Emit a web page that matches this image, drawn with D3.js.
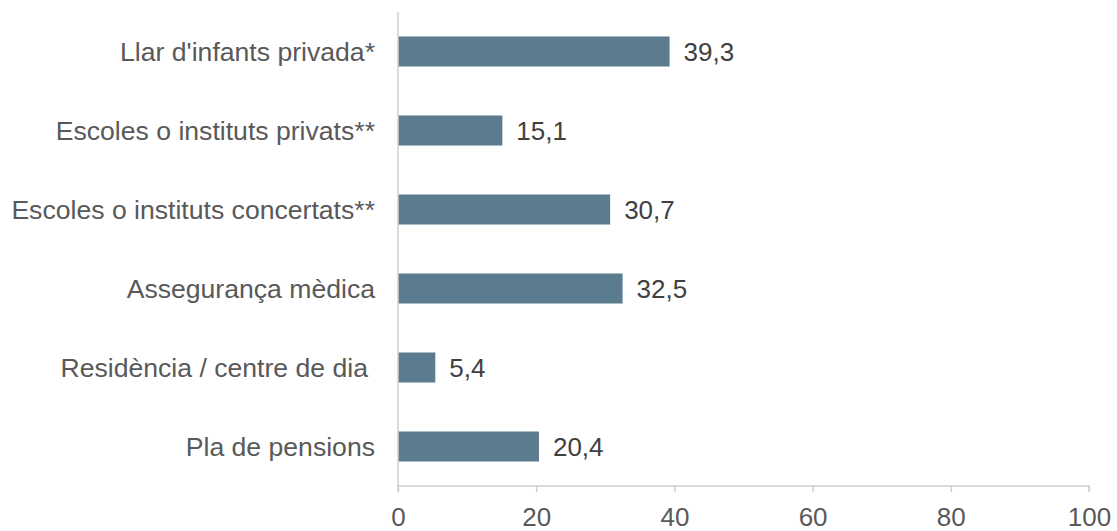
<!DOCTYPE html>
<html><head><meta charset="utf-8">
<script src="https://cdn.jsdelivr.net/npm/d3@7/dist/d3.min.js"></script>
<style>body{margin:0;background:#fff}svg{display:block}</style>
</head><body><svg id="c" width="1117" height="531"></svg>
<script>
const categories = ["Llar d'infants privada*","Escoles o instituts privats**","Escoles o instituts concertats**","Assegurança mèdica","Residència / centre de dia ","Pla de pensions"];
const values = [39.3, 15.1, 30.7, 32.5, 5.4, 20.4];
const xTicks = [0, 20, 40, 60, 80, 100];

const svg = d3.select("#c");
const pLeft = 398, pRight = 1089, pTop = 12, pBottom = 486;
const font = "'Liberation Sans', Arial, sans-serif";
const fs = 26;
const x = d3.scaleLinear().domain([0,100]).range([pLeft,pRight]);
const y = d3.scaleBand().domain(categories).range([pTop,pBottom]).paddingInner(0.62).paddingOuter(0.31);

svg.selectAll("rect.bar").data(values).join("rect").attr("class","bar")
  .attr("x", x(0)).attr("y",(d,i)=>y(categories[i]))
  .attr("width", d=>x(d)-x(0)).attr("height", y.bandwidth())
  .attr("fill","#5b7b8f");

svg.selectAll("text.val").data(values).join("text").attr("class","val")
  .attr("x", d=>x(d)+14).attr("y",(d,i)=>y(categories[i])+y.bandwidth()/2)
  .attr("dy","0.35em").attr("font-family",font).attr("font-size",fs).attr("fill","#404040")
  .text(d=>d.toFixed(1).replace(".",","));

// y axis
svg.append("line").attr("x1",pLeft).attr("x2",pLeft).attr("y1",pTop).attr("y2",pBottom).attr("stroke","#d0d0d0").attr("stroke-width",1.5);
svg.selectAll("text.cat").data(categories).join("text").attr("class","cat")
  .attr("x", pLeft-23).attr("y",d=>y(d)+y.bandwidth()/2).attr("dy","0.35em")
  .attr("dx",d=>d.endsWith(" ")?-7:0)
  .attr("text-anchor","end").attr("font-family",font).attr("font-size",26.6).attr("fill","#595959")
  .text(d=>d.trimEnd());

// x axis
const xAxis = d3.axisBottom(x).tickValues(xTicks).tickSize(6).tickPadding(16).tickFormat(d3.format("d"));
const g = svg.append("g").attr("transform",`translate(0,${pBottom})`).call(xAxis);
g.select(".domain").attr("stroke","#d0d0d0").attr("stroke-width",1.5).attr("d",`M${pLeft},6V0H${pRight}V6`);
g.selectAll(".tick line").attr("stroke","#d0d0d0").attr("stroke-width",1.5);
g.selectAll(".tick text").attr("font-family",font).attr("font-size",fs).attr("fill","#595959");
</script></body></html>
